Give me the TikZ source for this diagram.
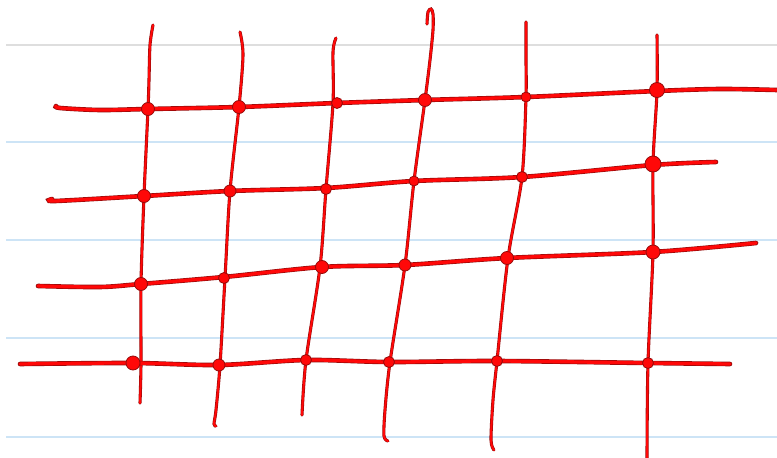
\documentclass[tikz,border=0pt]{standalone}
\begin{document}
\begin{tikzpicture}[x=1pt,y=-1pt,
  rule/.style={line width=1.4pt,color=ruleblue},
  hline/.style={line width=3.3pt,color=ink,line cap=round,line join=round,
     preaction={draw,line width=4.6pt,color=inkdark,line cap=round}},
  vline/.style={line width=2.0pt,color=ink,line cap=round,line join=round,
     preaction={draw,line width=3.1pt,color=inkdark,line cap=round}},
  knot/.style={fill=ink,draw=inkdark,line width=0.8pt}]
\definecolor{ink}{RGB}{255,8,8}
\definecolor{inkdark}{RGB}{150,10,10}
\definecolor{ruleblue}{RGB}{205,228,246}
\definecolor{rulegray}{RGB}{222,222,222}
\useasboundingbox (0,0) rectangle (777,458);
\fill[white] (0,0) rectangle (777,458);
% ruled paper
\draw[rule,color=rulegray] (6,45) -- (777,45);
\foreach \y in {142,240,338,437} \draw[rule] (6,\y) -- (777,\y);
% vertical strokes
\draw[vline] plot[smooth,tension=0.5] coordinates {(153,25) (150,45) (149,80) (148,109) (144,196) (141,284) (141,363) (140,403)};
\draw[vline] plot[smooth,tension=0.5] coordinates {(240,32) (243,55) (239,107) (230,191) (225,278) (220,365) (216,410) (214,424) (216,426)};
\draw[vline] plot[smooth,tension=0.5] coordinates {(336,38) (333,52) (333,103) (326,189) (320,267) (306,360) (302,415)};
\draw[vline] plot[smooth,tension=0.5] coordinates {(427,24) (428,12) (431,9) (433,14) (433,30) (430,60) (425,100) (414,181) (405,265) (390,362) (385,410) (384,436) (388,441)};
\draw[vline] plot[smooth,tension=0.5] coordinates {(526,22) (526,60) (526,97) (522,177) (508,258) (497,361) (493,400) (491,440) (494,450)};
\draw[vline] plot[smooth,tension=0.5] coordinates {(657,35) (657,91) (653,164) (653,252) (648,363) (647,458)};
% horizontal strokes
\draw[hline] plot[smooth,tension=0.5] coordinates {(56,106) (60,108) (100,110) (148,109) (239,107) (337,103) (425,100) (526,97) (657,91) (720,89) (777,90)};
\draw[hline] plot[smooth,tension=0.5] coordinates {(52,199) (55,201) (144,196) (230,191) (326,188) (414,181) (522,177) (653,165) (716,162)};
\draw[hline] plot[smooth,tension=0.5] coordinates {(38,286) (100,287) (141,284) (224,277) (322,267) (405,265) (507,258) (653,252) (756,243)};
\draw[hline] plot[smooth,tension=0.5] coordinates {(20,364) (133,363) (219,365) (306,360) (389,362) (497,361) (648,363) (730,364)};
% knots
\foreach \x/\y/\r in {148/109/6.5, 239/107/6.5, 337/103/5.5, 425/100/6.5, 526/97/5, 657/90/7.5,
  144/196/6.5, 230/191/6, 326/189/5.5, 414/181/5, 522/177/5.5, 653/164/8,
  141/284/6.5, 224/278/5.5, 322/267/6.5, 405/265/6, 507/258/6.5, 653/252/7,
  133/363/7, 219/365/6, 306/360/5.5, 389/362/5.5, 497/361/5.5, 648/363/5.5}
  \filldraw[knot] (\x,\y) circle (\r);
\end{tikzpicture}
\end{document}
